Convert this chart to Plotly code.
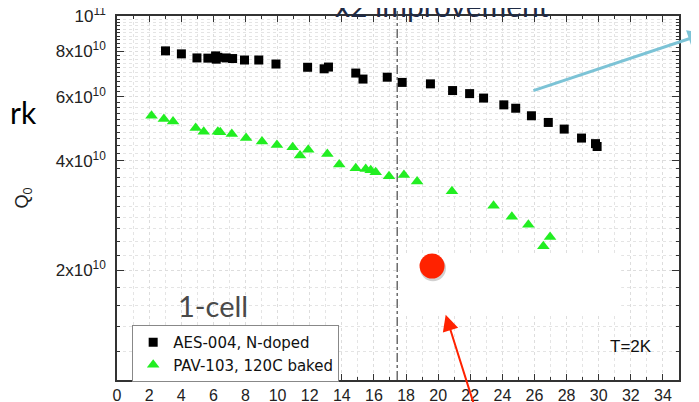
import plotly.graph_objects as go

# ---- data ----
aes_x = [3.02, 4.01, 4.98, 5.66, 6.14, 6.18, 6.28, 6.80, 7.20, 7.94, 8.83, 9.90,
         11.87, 12.90, 13.17, 14.87, 15.32, 16.83, 17.76, 19.52, 20.90, 21.96,
         22.83, 24.09, 24.83, 25.81, 26.86, 27.85, 28.93, 29.80, 29.90]
aes_q = [8.02e10, 7.87e10, 7.67e10, 7.66e10, 7.77e10, 7.61e10, 7.70e10, 7.67e10,
         7.64e10, 7.57e10, 7.57e10, 7.38e10, 7.23e10, 7.16e10, 7.24e10, 6.97e10,
         6.71e10, 6.79e10, 6.57e10, 6.51e10, 6.24e10, 6.12e10, 5.95e10, 5.70e10,
         5.58e10, 5.32e10, 5.10e10, 4.89e10, 4.62e10, 4.46e10, 4.38e10]

pav_x = [2.15, 2.92, 3.49, 4.90, 5.40, 6.28, 6.43, 7.15, 8.04, 9.03, 9.96, 10.94,
         11.40, 11.91, 13.10, 13.84, 14.87, 15.49, 15.80, 16.11, 16.94, 17.87,
         18.69, 20.86, 23.45, 24.59, 25.62, 26.97, 26.55]
pav_q = [5.32e10, 5.21e10, 5.13e10, 4.92e10, 4.81e10, 4.81e10, 4.79e10, 4.74e10,
         4.62e10, 4.52e10, 4.42e10, 4.36e10, 4.14e10, 4.29e10, 4.18e10, 3.91e10,
         3.82e10, 3.80e10, 3.77e10, 3.72e10, 3.63e10, 3.66e10, 3.51e10, 3.30e10,
         3.01e10, 2.81e10, 2.67e10, 2.47e10, 2.33e10]

series_names = ["AES-004, N-doped", "PAV-103, 120C baked"]

x_tickvals = list(range(0, 35, 2))
y_tickvals = [2e10, 4e10, 6e10, 8e10, 1e11]
y_ticktext = ["2x10<sup>10</sup>", "4x10<sup>10</sup>", "6x10<sup>10</sup>",
              "8x10<sup>10</sup>", "10<sup>11</sup>"]
y_minor_vals = [v * 1e9 for v in range(12, 100, 2) if v % 20 != 0]

threshold_x = 17.45

X_TICK_FONT = dict(family="Liberation Sans, Arial", size=16, color="#222222")
Y_TICK_FONT = dict(family="Liberation Sans, Arial", size=17, color="#222222")

fig = go.Figure()
fig.add_trace(go.Scatter(
    x=aes_x, y=aes_q, mode="markers", name=series_names[0],
    marker=dict(symbol="square", size=9, color="#000000")))
fig.add_trace(go.Scatter(
    x=pav_x, y=pav_q, mode="markers", name=series_names[1],
    marker=dict(symbol="triangle-up", size=11, color="#22EE22")))

fig.update_xaxes(
    range=[0, 35], tickvals=x_tickvals, ticks="inside", ticklen=6, tickwidth=1.2,
    tickcolor="#333333", mirror="allticks", showline=True, linecolor="#333333",
    linewidth=1.5, tickfont=X_TICK_FONT, zeroline=False, ticklabelstandoff=0,
    gridcolor="#DDDDDD", griddash="dot", automargin=False,
    ticklabeloverflow="allow",
    minor=dict(dtick=1, ticks="inside", ticklen=3, tickcolor="#333333",
               showgrid=True, gridcolor="#E4E4E4", griddash="dot"))
fig.update_yaxes(
    type="log", range=[10, 11], tickvals=y_tickvals, ticktext=y_ticktext,
    ticks="inside", ticklen=7, tickwidth=1.2, tickcolor="#333333",
    mirror="allticks", showline=True, linecolor="#333333", linewidth=1.5,
    tickfont=Y_TICK_FONT, ticklabelstandoff=6, gridcolor="#DDDDDD", griddash="dot",
    automargin=False, ticklabeloverflow="allow",
    title=dict(text="Q<sub>0</sub>", font=dict(family="Liberation Sans, Arial",
               size=18, color="#222222"), standoff=22),
    minor=dict(tickmode="array", tickvals=y_minor_vals, ticks="inside", ticklen=3,
               tickcolor="#333333", showgrid=True, gridcolor="#E4E4E4",
               griddash="dot"))

# white patch from the slide
fig.add_shape(type="rect", xref="x", yref="paper", x0=17.6, x1=31.4,
              y0=0.184, y1=0.349, fillcolor="white", line_width=0, layer="above")
# dash-dot threshold line
fig.add_shape(type="line", xref="x", yref="paper", x0=threshold_x, x1=threshold_x,
              y0=0, y1=1.05, line=dict(color="#555555", width=1.3, dash="dashdot"))
# red dot with shadow
fig.add_shape(type="circle", xref="x", yref="paper", xsizemode="pixel",
              ysizemode="pixel", xanchor=19.68, yanchor=0.307,
              x0=-13, x1=13, y0=-13, y1=13,
              fillcolor="rgba(0,0,0,0.18)", line_width=0)
fig.add_shape(type="circle", xref="x", yref="paper", xsizemode="pixel",
              ysizemode="pixel", xanchor=19.62, yanchor=0.313,
              x0=-12.5, x1=12.5, y0=-12.5, y1=12.5,
              fillcolor="#FF2200", line_width=0)

annotations = [
    dict(text="1-cell", x=5.96, y=0.2038, xref="x", yref="paper", showarrow=False,
         xanchor="center", yanchor="middle",
         font=dict(family="Lato", size=29, color="#4a4a4a")),
    dict(text="T=2K", x=32.0, y=0.0907, xref="x", yref="paper", showarrow=False,
         xanchor="center", yanchor="middle",
         font=dict(family="Liberation Sans, Arial", size=17, color="#111111")),
    dict(text="x2 improvement", x=20.3, y=1.0, xref="x", yref="paper",
         xanchor="center", yanchor="bottom", yshift=-9,
         showarrow=False, font=dict(family="Lato", size=30, color="#1F2A44")),
    dict(text="rk", x=0.0, y=0.735, xref="paper", yref="paper", xanchor="left",
         yanchor="middle", xshift=-109, showarrow=False,
         font=dict(family="Lato", size=30, color="#000000")),
    # red arrow
    dict(text="", x=20.47, y=0.179, xref="x", yref="paper", showarrow=True,
         ax=29, ay=92, arrowhead=2, arrowsize=1.6, arrowwidth=2,
         arrowcolor="#FF2200", standoff=0),
    # light blue arrow
    dict(text="", x=1.055, y=0.953, xref="paper", yref="paper", showarrow=True,
         ax=-178, ay=58, arrowhead=2, arrowsize=1.2, arrowwidth=3,
         arrowcolor="#7CC3D6", standoff=0),
]

fig.update_layout(
    width=699, height=402,
    margin=dict(l=109, r=28, t=8, b=30, autoexpand=False),
    paper_bgcolor="white", plot_bgcolor="white",
    annotations=annotations,
    legend=dict(x=0.027, y=0.151, xanchor="left", yanchor="top",
                bgcolor="white", bordercolor="#888888", borderwidth=1,
                font=dict(family="DejaVu Sans", size=15, color="#111111"),
                tracegroupgap=0, itemwidth=30),
    showlegend=True,
)

fig.write_html("out.html")
